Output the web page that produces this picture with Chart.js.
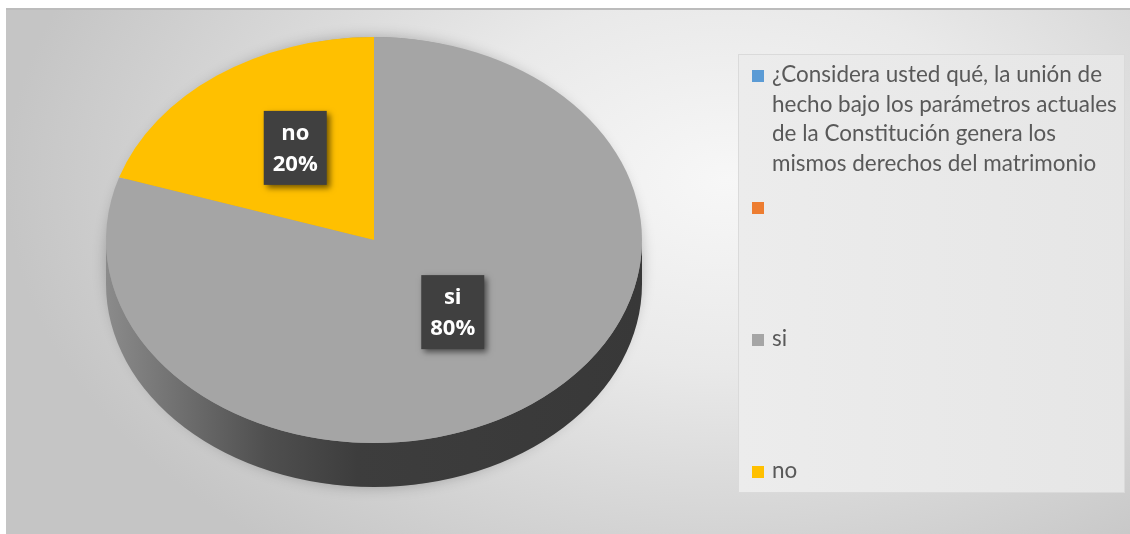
<!DOCTYPE html>
<html>
<head>
<meta charset="utf-8">
<script src="https://cdn.jsdelivr.net/npm/chart.js@4.4.1/dist/chart.umd.min.js"></script>
<style>
  html, body { margin: 0; padding: 0; background: #fff; }
  #frame {
    position: absolute; left: 6px; top: 8px; width: 1124px; height: 524px;
    background: radial-gradient(ellipse 720px 470px at 720px 170px, #f7f7f7 0%, #e9e9e9 40%, #c5c5c5 100%);
    border-top: 2px solid #bcbcbc;
  }
  #pieChart { position: absolute; left: 0; top: 0; }
</style>
</head>
<body>
<div id="frame"></div>
<canvas id="pieChart" width="1130" height="534"></canvas>
<script>
// categories (first one is the question title, wrapped as in the original legend)
const categories = [
  ["¿Considera usted qué, la unión de", "hecho bajo los parámetros actuales",
   "de la Constitución genera los", "mismos derechos del matrimonio"],
  "",
  "si",
  "no"
];
const respuestas = [0, 0, 80, 20];
const sliceColors = ["#5B9BD5", "#ED7D31", "#A5A5A5", "#FFC000"];

// ellipse of the tilted pie
const RX = 268, RY = 203, DEPTH = 44;

function shade(hex, f) {
  const n = parseInt(hex.slice(1), 16);
  const r = Math.round(((n >> 16) & 255) * f);
  const g = Math.round(((n >> 8) & 255) * f);
  const b = Math.round((n & 255) * f);
  return `rgb(${r},${g},${b})`;
}

// draws the side of the pie, then squashes the slices into an ellipse
const pie3d = {
  id: "pie3d",
  beforeDatasetsDraw(chart) {
    const ctx = chart.ctx;
    const arcs = chart.getDatasetMeta(0).data;
    const cx = arcs[0].x, cy = arcs[0].y, r = arcs[0].outerRadius;

    // soft halo under the pie
    ctx.save();
    ctx.shadowColor = "rgba(0,0,0,0.25)";
    ctx.shadowBlur = 14;
    ctx.beginPath();
    ctx.ellipse(cx, cy + DEPTH / 2, RX, RY + DEPTH / 2, 0, 0, Math.PI * 2);
    ctx.fillStyle = "#9a9a9a";
    ctx.fill();
    ctx.restore();

    arcs.forEach((arc, i) => {
      if (!respuestas[i]) return;
      [0, -2 * Math.PI].forEach(shift => {
        const a0 = Math.max(arc.startAngle + shift, 0);
        const a1 = Math.min(arc.endAngle + shift, Math.PI);
        if (a1 <= a0) return;
        const grad = ctx.createLinearGradient(cx - RX, 0, cx + RX, 0);
        const c = sliceColors[i];
        grad.addColorStop(0, shade(c, 0.84));
        grad.addColorStop(0.12, shade(c, 0.7));
        grad.addColorStop(0.3, shade(c, 0.48));
        grad.addColorStop(0.47, shade(c, 0.37));
        grad.addColorStop(1, shade(c, 0.34));
        ctx.save();
        ctx.beginPath();
        ctx.ellipse(cx, cy, RX, RY, 0, a0, a1);
        ctx.ellipse(cx, cy + DEPTH, RX, RY, 0, a1, a0, true);
        ctx.closePath();
        ctx.fillStyle = grad;
        ctx.fill();
        ctx.restore();
      });
    });

    ctx.save();
    ctx.translate(cx, cy);
    ctx.scale(RX / r, RY / r);
    ctx.translate(-cx, -cy);
  },
  afterDatasetsDraw(chart) {
    chart.ctx.restore();
  },
  afterDraw(chart) {
    const ctx = chart.ctx;
    const arcs = chart.getDatasetMeta(0).data;
    const cx = arcs[0].x, cy = arcs[0].y, r = arcs[0].outerRadius;
    const total = respuestas.reduce((a, b) => a + b, 0);

    // data labels
    arcs.forEach((arc, i) => {
      if (!respuestas[i]) return;
      const p = arc.getCenterPoint();
      const x = cx + (p.x - cx) * RX / r;
      const y = cy + (p.y - cy) * RY / r - 10;
      const w = 63, h = 74;
      ctx.save();
      ctx.shadowColor = "rgba(0,0,0,0.55)";
      ctx.shadowBlur = 6;
      ctx.shadowOffsetX = 3;
      ctx.shadowOffsetY = 3;
      ctx.fillStyle = "#404040";
      ctx.fillRect(x - w / 2, y - h / 2, w, h);
      ctx.restore();
      ctx.save();
      ctx.fillStyle = "#ffffff";
      ctx.font = "bold 22px 'Open Sans'";
      ctx.textAlign = "center";
      ctx.textBaseline = "middle";
      ctx.fillText(categories[i], x, y - 14);
      ctx.fillText(Math.round(respuestas[i] / total * 100) + "%", x, y + 17);
      ctx.restore();
    });

    // legend box on the right
    const bx = 738, by = 54, bw = 387, bh = 439;
    ctx.save();
    const lg = ctx.createLinearGradient(bx, 0, bx + bw, 0);
    lg.addColorStop(0, "#ececec");
    lg.addColorStop(1, "#e6e6e6");
    ctx.fillStyle = lg;
    ctx.fillRect(bx, by, bw, bh);
    ctx.strokeStyle = "#dadada";
    ctx.lineWidth = 1;
    ctx.strokeRect(bx + 0.5, by + 0.5, bw - 1, bh - 1);

    // fit the font to the width of the wrapped title
    ctx.font = "22px Lato";
    let widest = 0;
    categories.forEach(c => [].concat(c).forEach(t => {
      widest = Math.max(widest, ctx.measureText(t).width);
    }));
    const size = Math.min(24, 22 * 345 / widest);
    ctx.font = size + "px Lato";
    ctx.textBaseline = "middle";

    categories.forEach((c, i) => {
      const y = 76 + i * 132;
      ctx.fillStyle = sliceColors[i];
      ctx.fillRect(752, y - 6, 12, 12);
      ctx.fillStyle = "#595959";
      [].concat(c).forEach((t, k) => ctx.fillText(t, 772, y - 1 + k * 29.5));
    });
    ctx.restore();
  }
};

const chart = new Chart(document.getElementById("pieChart").getContext("2d"), {
  type: "pie",
  data: {
    labels: categories,
    datasets: [{
      data: respuestas,
      backgroundColor: sliceColors,
      borderWidth: 0,
      clip: false
    }]
  },
  options: {
    responsive: false,
    devicePixelRatio: 1,
    animation: false,
    layout: { padding: { left: 224, right: 606, top: 90, bottom: 144 } },
    plugins: {
      legend: { display: false },
      tooltip: { enabled: false }
    }
  },
  plugins: [pie3d]
});
</script>
</body>
</html>
